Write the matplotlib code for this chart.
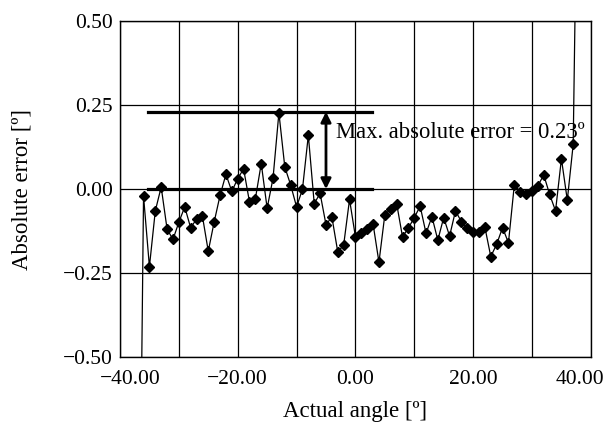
import matplotlib
matplotlib.use('Agg')
import matplotlib.pyplot as plt
from matplotlib.ticker import FuncFormatter
from matplotlib.transforms import ScaledTranslation

plt.rcParams['font.family'] = ['Liberation Serif', 'DejaVu Serif']

# actual angle [deg] and absolute error [deg]
angle = [-36, -35, -34, -33, -32, -31, -30, -29, -28, -27,
         -26, -25, -24, -23, -22, -21, -20, -19, -18, -17,
         -16, -15, -14, -13, -12, -11, -10, -9, -8, -7,
         -6, -5, -4, -3, -2, -1, 0, 1, 2, 3,
         4, 5, 6, 7, 8, 9, 10, 11, 12, 13,
         14, 15, 16, 17, 18, 19, 20, 21, 22, 23,
         24, 25, 26, 27, 28, 29, 30, 31, 32, 33,
         34, 35, 36, 37]
error = [-0.021, -0.231, -0.065, 0.006, -0.119, -0.150, -0.099, -0.053, -0.115, -0.090,
         -0.080, -0.185, -0.098, -0.019, 0.044, -0.007, 0.031, 0.060, -0.038, -0.029,
         0.076, -0.057, 0.032, 0.227, 0.066, 0.012, -0.053, -0.001, 0.160, -0.043,
         -0.013, -0.106, -0.083, -0.187, -0.167, -0.031, -0.142, -0.132, -0.120, -0.104,
         -0.218, -0.076, -0.060, -0.043, -0.142, -0.116, -0.085, -0.051, -0.132, -0.082,
         -0.152, -0.085, -0.140, -0.065, -0.097, -0.117, -0.127, -0.129, -0.114, -0.201,
         -0.164, -0.115, -0.160, 0.013, -0.008, -0.015, -0.005, 0.010, 0.042, -0.016,
         -0.065, 0.090, -0.033, 0.133]

# off-scale readings at both ends (line runs out of the frame)
start_pt = (-36.6, -1.0)
end_pt = (37.7, 1.0)

max_err = 0.23
band_x = (-35.2, 2.8)
arrow_x = -5.0

fig = plt.figure(figsize=(6.06, 4.22), dpi=100)
ax = fig.add_axes([0.198, 0.154, 0.777, 0.796])

ax.plot([start_pt[0], angle[0]], [start_pt[1], error[0]], color='black', lw=0.9)
ax.plot([angle[-1], end_pt[0]], [error[-1], end_pt[1]], color='black', lw=0.9)
ax.plot(angle, error, color='black', lw=0.9, marker='D', ms=4.8)

# max error band
ax.plot(band_x, [max_err, max_err], color='black', lw=2.3)
ax.plot(band_x, [0, 0], color='black', lw=2.3)
ax.annotate('', xy=(arrow_x, max_err), xytext=(arrow_x, 0),
            arrowprops=dict(arrowstyle='<|-|>', color='black', lw=2,
                            mutation_scale=15, shrinkA=0, shrinkB=0))
ax.text(-3.3, 0.167, 'Max. absolute error = 0.23º', fontsize=16.3,
        va='center', ha='left')

ax.set_xlim(-40, 40)
ax.set_ylim(-0.5, 0.5)
ax.set_xticks([-40, -30, -20, -10, 0, 10, 20, 30, 40])
ax.set_yticks([-0.5, -0.25, 0, 0.25, 0.5])

def fmt_x(v, pos):
    if round(v) % 20 != 0:
        return ''
    return ('%.2f' % v).replace('-', '\u2212')

def fmt_y(v, pos):
    return ('%.2f' % v).replace('-', '\u2212')

ax.xaxis.set_major_formatter(FuncFormatter(fmt_x))
ax.yaxis.set_major_formatter(FuncFormatter(fmt_y))
ax.tick_params(length=0, labelsize=15.5)
ax.tick_params(axis='x', pad=9)
ax.tick_params(axis='y', pad=5)
ax.grid(True, color='black', lw=0.9)
ax.set_axisbelow(True)
for s in ax.spines.values():
    s.set_linewidth(1)

# end labels pulled inward like in the original
xlabels = ax.get_xticklabels()
xlabels[0].set_transform(xlabels[0].get_transform() + ScaledTranslation(0.1, 0, fig.dpi_scale_trans))
xlabels[-1].set_transform(xlabels[-1].get_transform() + ScaledTranslation(-0.11, 0, fig.dpi_scale_trans))

ax.set_xlabel('Actual angle [º]', fontsize=16.5, labelpad=9)
ax.set_ylabel('Absolute error [º]', fontsize=16.5, labelpad=22)

fig.savefig('out.png', dpi=100)
